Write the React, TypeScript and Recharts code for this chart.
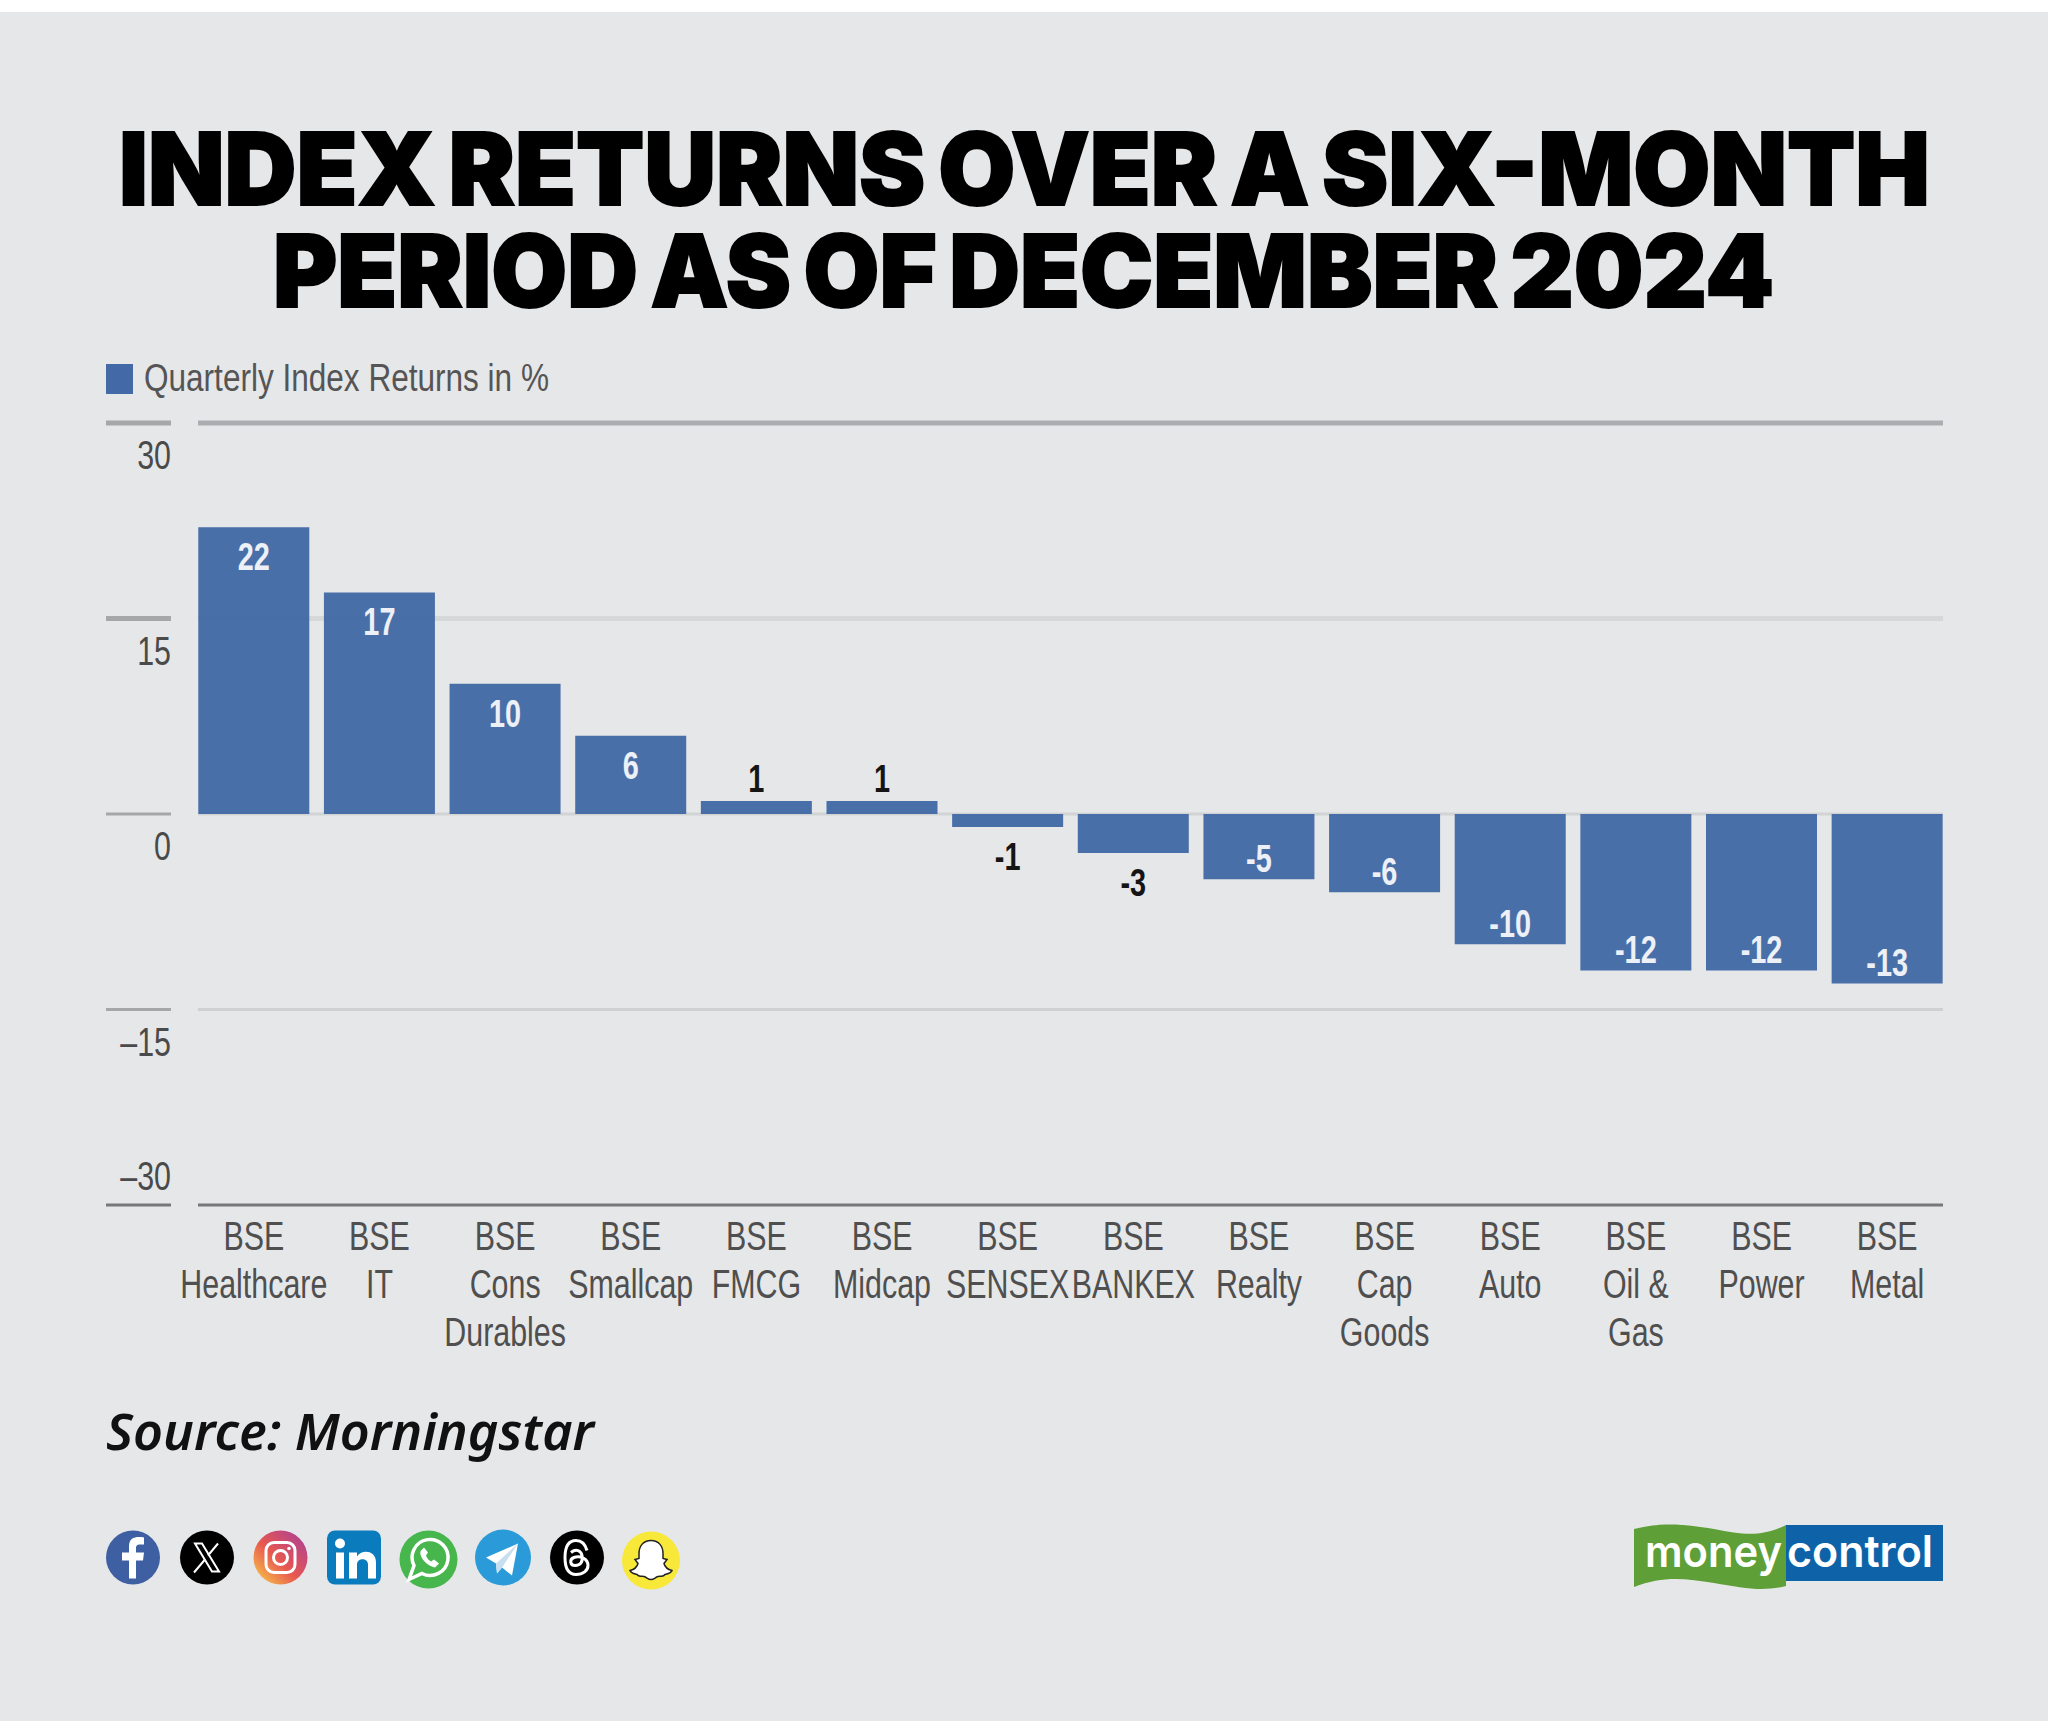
import { BarChart, Bar, XAxis, YAxis, CartesianGrid, Legend, LabelList } from "recharts"

const categories = [
  "BSE\nHealthcare",
  "BSE\nIT",
  "BSE\nCons\nDurables",
  "BSE\nSmallcap",
  "BSE\nFMCG",
  "BSE\nMidcap",
  "BSE\nSENSEX",
  "BSE\nBANKEX",
  "BSE\nRealty",
  "BSE\nCap\nGoods",
  "BSE\nAuto",
  "BSE\nOil &\nGas",
  "BSE\nPower",
  "BSE\nMetal",
]
const returnsPct = [22, 17, 10, 6, 1, 1, -1, -3, -5, -6, -10, -12, -12, -13]
const yTicks = [-30, -15, 0, 15, 30]

const chartData = categories.map((name, i) => ({ name, value: returnsPct[i] }))

const SANS = '"Liberation Sans", sans-serif'
const NARROW_X = 0.76
const BLUE = "#436AA6"
const BG = "#E6E7E9"

// weight and colour of each gridline, by tick value
const gridStyle: Record<number, { stroke: string; width: number }> = {
  30: { stroke: "#ABADB0", width: 5 },
  15: { stroke: "#D6D7D9", width: 5 },
  0: { stroke: "#D2D3D5", width: 3 },
  [-15]: { stroke: "#CFD0D2", width: 3 },
  [-30]: { stroke: "#77787A", width: 3 },
}

// there is no narrow face installed, so squeeze the regular one
const NarrowText = ({ x, y, anchor, size, fill, bold, children }: any) => (
  <g transform={`translate(${x},${y}) scale(${NARROW_X},1)`}>
    <text textAnchor={anchor} fontFamily={SANS} fontSize={size} fontWeight={bold ? 700 : 400} fill={fill}>
      {children}
    </text>
  </g>
)

const GridLine = (props: any) => {
  const { x1, x2, y1, y2, index } = props
  const s = gridStyle[yTicks[index]] || gridStyle[0]
  return <line x1={x1 + 7} x2={x2 - 7} y1={y1} y2={y2} stroke={s.stroke} strokeWidth={s.width} />
}

const YTick = ({ x, y, payload }: any) => {
  const v = payload.value
  const s = gridStyle[v] || gridStyle[0]
  const label = v < 0 ? `–${Math.abs(v)}` : `${v}`
  return (
    <g>
      <line x1={x - 65} x2={x} y1={y} y2={y} stroke={v === -30 ? "#77787A" : "#A6A7A9"} strokeWidth={s.width} />
      <NarrowText x={x} y={v === -30 ? y - 15 : y + 46} anchor="end" size={40} fill="#4A4A4A">
        {label}
      </NarrowText>
    </g>
  )
}

const XTick = ({ x, y, payload }: any) => (
  <g>
    {String(payload.value)
      .split("\n")
      .map((line: string, i: number) => (
        <NarrowText key={i} x={x} y={y + 45 + i * 48} anchor="middle" size={40} fill="#4F4F4F">
          {line}
        </NarrowText>
      ))}
  </g>
)

const ValueLabel = ({ viewBox, value }: any) => {
  const { x, y, width, height } = viewBox
  const top = Math.min(y, y + height)
  const bottom = Math.max(y, y + height)
  const inside = Math.abs(value) >= 5
  let centre
  if (value > 0) centre = inside ? top + 29 : top - 23
  else centre = inside ? bottom - 21 : bottom + 29
  return (
    <NarrowText x={x + width / 2} y={centre + 14} anchor="middle" size={38} bold fill={inside ? "#EDF0F6" : "#151515"}>
      {value}
    </NarrowText>
  )
}

const LegendBox = () => (
  <div style={{ display: "flex", alignItems: "center", whiteSpace: "nowrap", fontFamily: SANS, fontSize: 38, color: "#555" }}>
    <span style={{ display: "inline-block", flexShrink: 0, width: 27, height: 30, background: BLUE, marginRight: 11 }} />
    <span style={{ display: "inline-block", transform: "scale(0.83,1)", transformOrigin: "left center" }}>
      Quarterly Index Returns in %
    </span>
  </div>
)

const SocialIcons = () => (
  <g transform="translate(0,1.5)">
    {/* facebook */}
    <circle cx={133} cy={1556} r={27} fill="#3F5FA3" />
    <path d="M136 1577v-18h7l1-8h-8v-4c0-3 1-4 4-4h4v-7c-7-1-15-1-15 9v6h-7v8h7v18z" fill="#fff" />
    {/* x */}
    <circle cx={207} cy={1556} r={27} fill="#000" />
    <path d="M195 1542h7l17 28h-7z" fill="none" stroke="#fff" strokeWidth={2} />
    <path d="M218 1542l-10 12M205 1558l-11 13" stroke="#fff" strokeWidth={2} />
    {/* instagram */}
    <defs>
      <linearGradient id="ig" x1="0" y1="1" x2="1" y2="0">
        <stop offset="0" stopColor="#F9D548" />
        <stop offset="0.45" stopColor="#E8584F" />
        <stop offset="1" stopColor="#A63E9E" />
      </linearGradient>
    </defs>
    <circle cx={280.5} cy={1556} r={27} fill="url(#ig)" />
    <rect x={266} y={1541} width={29} height={30} rx={8} fill="none" stroke="#fff" strokeWidth={3} />
    <circle cx={280.5} cy={1556} r={7} fill="none" stroke="#fff" strokeWidth={3} />
    <circle cx={289} cy={1547} r={1.8} fill="#fff" />
    {/* linkedin */}
    <rect x={327} y={1529} width={54} height={54} rx={8} fill="#0A7CBD" />
    <circle cx={340} cy={1542} r={5} fill="#fff" />
    <rect x={336} y={1551} width={8} height={26} fill="#fff" />
    <path d="M349 1551h8v4c4-7 19-7 19 6v16h-8v-14c0-7-11-7-11 0v14h-8z" fill="#fff" />
    {/* whatsapp */}
    <circle cx={428.5} cy={1558} r={29} fill="#47B64D" />
    <path d="M409 1578l5-14a18 18 0 1 1 8 8z" fill="none" stroke="#fff" strokeWidth={3.5} />
    <path d="M421 1549c-3 4 4 15 14 17l4-4-5-4-3 2c-2-1-4-3-5-6l2-3-4-5z" fill="#fff" />
    {/* telegram */}
    <circle cx={503} cy={1556} r={28} fill="#2A9BD8" />
    <path d="M486 1556l32-14-6 32-10-8-5 6-1-10z" fill="#fff" />
    <path d="M496 1562l22-20-16 24-5 6z" fill="#C8DFF0" />
    {/* threads */}
    <circle cx={577} cy={1556} r={27} fill="#000" />
    <path
      d="M587 1549c-2-7-6-10-11-10-7 0-11 6-11 17s4 17 11 17 12-4 12-9c0-7-8-10-14-8-5 2-4 8 1 8 6 0 8-4 7-10-1-5-6-7-11-3"
      fill="none"
      stroke="#fff"
      strokeWidth={3}
    />
    {/* snapchat */}
    <circle cx={651} cy={1559} r={29} fill="#F8E83A" />
    <path
      d="M651 1539c8 0 12 6 12 13v5l4 1-3 4c1 4 4 6 8 7-1 3-4 3-7 4-2 3-4 1-7 2-3 1-4 3-7 3s-4-2-7-3c-3-1-5 1-7-2-3-1-6-1-7-4 4-1 7-3 8-7l-3-4 4-1v-5c0-7 4-13 12-13z"
      fill="#fff"
      stroke="#222"
      strokeWidth={1.5}
    />
  </g>
)

const Logo = () => (
  <g>
    <path
      d="M1634 1529c28-7 50-5 80 0 30 6 48 8 72-4v61c-24 6-42 2-72-3-30-5-52-7-80 4z"
      fill="#5E9F38"
    />
    <rect x={1786} y={1525} width={157} height={56} fill="#0E63A8" />
    <text x={1645} y={1567} fontFamily="Inter" fontWeight={600} fontSize={44} fill="#fff" textLength={137} lengthAdjust="spacingAndGlyphs">
      money
    </text>
    <text x={1787} y={1567} fontFamily="Inter" fontWeight={600} fontSize={44} fill="#fff" textLength={146} lengthAdjust="spacingAndGlyphs">
      control
    </text>
  </g>
)

export default function App() {
  return (
    <div style={{ position: "absolute", left: 0, top: 0, width: 2048, height: 1726, background: "#fff", overflow: "hidden" }}>
      <div style={{ position: "absolute", left: 0, top: 12, width: 2048, height: 1709, background: BG }} />

      <svg width={2048} height={1726} style={{ position: "absolute", left: 0, top: 0 }}>
        <text x={119} y={205} fontFamily="Inter" fontWeight={900} fontSize={100} fill="#000" stroke="#000" strokeWidth={2} wordSpacing={-7} textLength={1811} lengthAdjust="spacingAndGlyphs">
          INDEX RETURNS OVER A SIX-MONTH
        </text>
        <text x={273} y={307} fontFamily="Inter" fontWeight={900} fontSize={100} fill="#000" stroke="#000" strokeWidth={2} wordSpacing={-7} textLength={1501} lengthAdjust="spacingAndGlyphs">
          PERIOD AS OF DECEMBER 2024
        </text>
        <text x={106} y={1450} fontFamily='"Noto Sans"' fontStyle="italic" fontWeight={600} fontSize={50} fill="#111" textLength={488} lengthAdjust="spacingAndGlyphs">
          Source: Morningstar
        </text>
        <SocialIcons />
        <Logo />
      </svg>

      <div style={{ position: "absolute", left: 0, top: 0 }}>
        <BarChart
          width={2048}
          height={1726}
          data={chartData}
          margin={{ top: 423, right: 98, bottom: 361, left: 0 }}
          barCategoryGap="5.8%"
        >
          <CartesianGrid vertical={false} horizontal={GridLine} />
          <XAxis dataKey="name" interval={0} height={160} axisLine={false} tickLine={false} tickSize={0} tickMargin={0} tick={XTick} />
          <YAxis
            type="number"
            domain={[-30, 30]}
            ticks={yTicks}
            width={191}
            axisLine={false}
            tickLine={false}
            tickSize={0}
            tickMargin={20}
            tick={YTick}
          />
          <Legend
            layout="vertical"
            align="center"
            verticalAlign="middle"
            content={LegendBox}
            wrapperStyle={{ left: 106, top: 357, width: 700, height: 40 }}
          />
          <Bar dataKey="value" name="Quarterly Index Returns in %" fill={BLUE} fillOpacity={0.97} isAnimationActive={false}>
            <LabelList dataKey="value" content={ValueLabel} />
          </Bar>
        </BarChart>
      </div>
    </div>
  )
}
